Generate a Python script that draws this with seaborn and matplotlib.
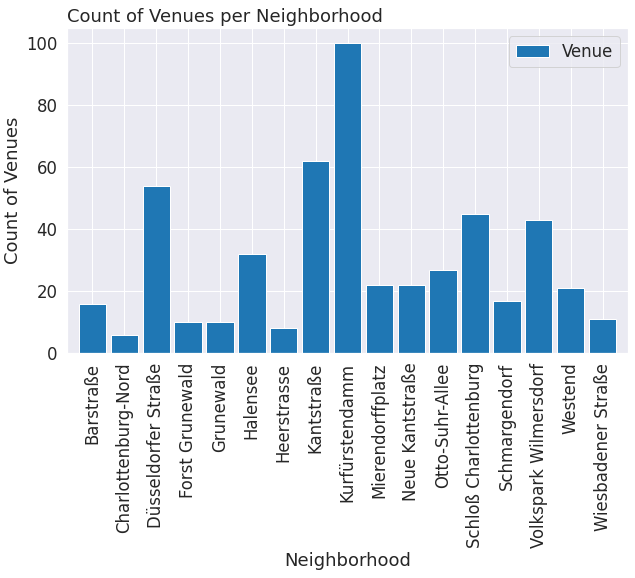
import matplotlib
matplotlib.use("Agg")
import matplotlib.pyplot as plt
import seaborn as sns
import pandas as pd

neighborhoods = ["Barstraße", "Charlottenburg-Nord", "Düsseldorfer Straße", "Forst Grunewald",
                 "Grunewald", "Halensee", "Heerstrasse", "Kantstraße", "Kurfürstendamm",
                 "Mierendorffplatz", "Neue Kantstraße", "Otto-Suhr-Allee", "Schloß Charlottenburg",
                 "Schmargendorf", "Volkspark Wilmersdorf", "Westend", "Wiesbadener Straße"]
venues = [16, 6, 54, 10, 10, 32, 8, 62, 100, 22, 22, 27, 45, 17, 43, 21, 11]
series_name = "Venue"

sns.set_theme(style="darkgrid", font_scale=1.5)
plt.rcParams['font.family'] = ['DejaVu Sans']

df = pd.DataFrame({"Neighborhood": neighborhoods, "Count": venues, "series": series_name})

DPI = 72
fig = plt.figure(figsize=(635 / DPI, 578 / DPI), dpi=DPI)
ax = fig.add_axes([0.1055, 0.389, 0.8835, 0.5626])
sns.barplot(data=df, x="Neighborhood", y="Count", hue="series", palette=["#1f77b4"],
            width=0.86, saturation=1, dodge=False, edgecolor="white", linewidth=1, ax=ax)
ax.set_xlim(-0.8, 16.8)
ax.set_ylim(0, 105)
ax.xaxis.grid(True)
ax.set_axisbelow(True)
ax.set_title("Count of Venues per Neighborhood", loc="left")
ax.set_ylabel("Count of Venues")
ax.set_xlabel("Neighborhood")
ax.tick_params(axis="x", labelrotation=90)
h, l = ax.get_legend_handles_labels()
ax.legend(h, [series_name], loc="upper right", title=None)

fig.savefig("out.png", dpi=DPI)
